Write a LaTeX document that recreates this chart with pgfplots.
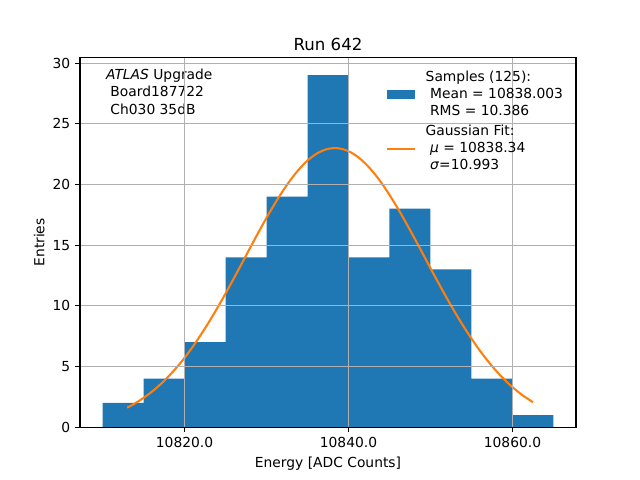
\documentclass[border=0pt]{standalone}
\usepackage{pgfplots}
\pgfplotsset{compat=1.18}
\usepackage{fontspec}
\setmainfont{DejaVu Sans}
\definecolor{mplblue}{HTML}{1F77B4}
\definecolor{mplorange}{HTML}{FF7F0E}
\definecolor{gridgray}{HTML}{B0B0B0}
\begin{document}
\begin{tikzpicture}
\path[use as bounding box] (0,0) rectangle (6.4in,4.8in);
\begin{axis}[
  at={(0.8in,0.528in)}, anchor=south west,
  scale only axis, width=4.96in, height=3.696in,
  xmin=10807.25, xmax=10867.75, ymin=0, ymax=30.45,
  scaled x ticks=false,
  xtick={10820,10840,10860}, xticklabels={10820.0,10840.0,10860.0},
  ytick={0,5,10,15,20,25,30},
  /pgf/number format/assume math mode=true,
  grid=major, major grid style={gridgray, line width=0.8pt},
  axis line style={line width=0.8pt},
  tick align=outside, major tick length=3.5pt,
  tick style={black, line width=0.8pt},
  tick pos=left,
  axis on top,
  title={Run 642},
  title style={font=\fontsize{12}{14}\selectfont, yshift=-4.3pt},
  xlabel={Energy [ADC Counts]}, ylabel={Entries},
  ylabel style={yshift=-1pt},
  label style={font=\fontsize{10}{12}\selectfont},
  tick label style={font=\fontsize{10}{12}\selectfont},
  legend cell align=left,
  legend style={draw=none, fill=none, at={(rel axis cs:0.98,0.972)}, anchor=north east,
    font=\fontsize{10}{12.3}\selectfont, row sep=1.5pt, inner sep=0pt,
    cells={align=left}},
]
\addplot[ybar interval, fill=mplblue, draw=none,
  legend image code/.code={\fill[mplblue] (0pt,-3.4pt) rectangle (20pt,3.4pt); \path (25pt,0pt);}]
  coordinates {(10810,2) (10815,4) (10820,7) (10825,14) (10830,19) (10835,29)
               (10840,14) (10845,18) (10850,13) (10855,4) (10860,1) (10865,1)};
\addlegendentry{Samples (125):\\\hspace*{0.318em}Mean = 10838.003\\\hspace*{0.318em}RMS = 10.386}
\addplot[mplorange, line width=1.5pt, smooth, no markers,
  legend image code/.code={\draw[mplorange, line width=1.5pt] (0pt,0pt) -- (20pt,0pt); \path (25pt,0pt);}]
  coordinates {(10813,1.61) (10813.75,1.88) (10815,2.41) (10816.25,3.05) (10817.5,3.81)
    (10818.75,4.70) (10820,5.71) (10821.25,6.87) (10822.5,8.15) (10823.75,9.53)
    (10825,11.01) (10826.25,12.56) (10827.5,14.14) (10828.75,15.72) (10830,17.25)
    (10831.25,18.68) (10832.5,19.97) (10833.75,21.08) (10835,21.97) (10836.25,22.59)
    (10837.5,22.93) (10838.75,22.98) (10840,22.74) (10841.25,22.21) (10842.5,21.41)
    (10843.75,20.38) (10845,19.14) (10846.25,17.75) (10847.5,16.25) (10848.75,14.69)
    (10850,13.10) (10851.25,11.54) (10852.5,10.03) (10853.75,8.61) (10855,7.30)
    (10856.25,6.10) (10857.5,5.04) (10858.75,4.10) (10860,3.30) (10861.25,2.62)
    (10862.5,2.06)};
\addlegendentry{Gaussian Fit:\\\hspace*{0.318em}\textit{μ} = 10838.34\\\hspace*{0.318em}\textit{σ}=10.993}
\node[anchor=north west, inner sep=0pt, align=left, font=\fontsize{10}{12.6}\selectfont]
  at (rel axis cs:0.052,0.970)
  {\textit{ATLAS} Upgrade\\\hspace*{0.318em}Board187722\\\hspace*{0.318em}Ch030 35dB};
\end{axis}
\end{tikzpicture}
\end{document}
